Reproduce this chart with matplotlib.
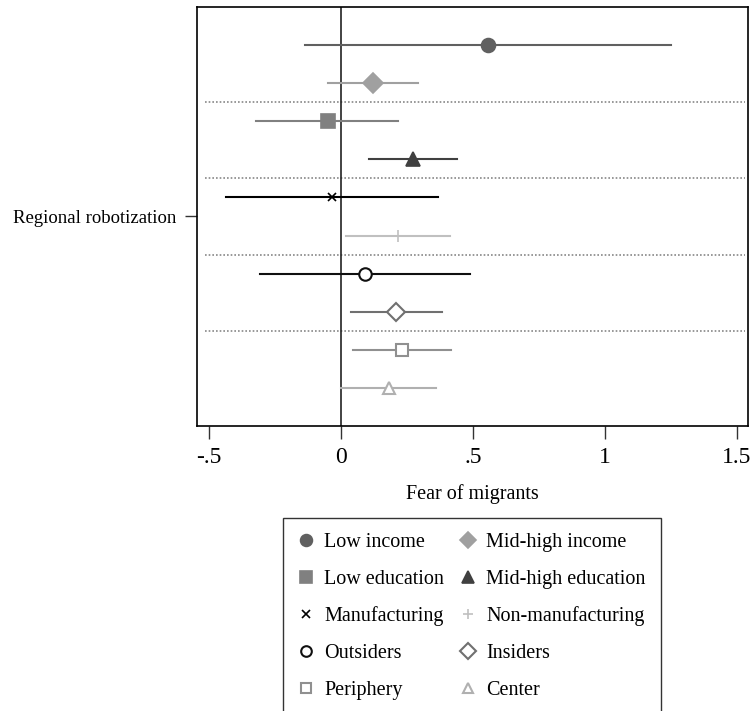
import matplotlib.pyplot as plt

plt.rcParams['font.family'] = ['Liberation Serif', 'DejaVu Serif']

# estimates and 95% CI
groups = ["Low income", "Mid-high income", "Low education", "Mid-high education",
          "Manufacturing", "Non-manufacturing", "Outsiders", "Insiders",
          "Periphery", "Center"]
coef = [0.558, 0.123, -0.049, 0.274, -0.034, 0.218, 0.091, 0.210, 0.232, 0.181]
lo = [-0.135, -0.048, -0.321, 0.108, -0.434, 0.020, -0.306, 0.038, 0.048, 0.000]
hi = [1.251, 0.293, 0.218, 0.442, 0.367, 0.415, 0.490, 0.383, 0.419, 0.359]

xticks = [-0.5, 0, 0.5, 1, 1.5]
xticklabels = ["-.5", "0", ".5", "1", "1.5"]

# marker, colour, filled
styles = [("o", "#606060", True), ("D", "#a0a0a0", True), ("s", "#808080", True),
          ("^", "#404040", True), ("x", "#000000", True), ("+", "#c0c0c0", True),
          ("o", "#101010", False), ("D", "#707070", False), ("s", "#909090", False),
          ("^", "#b0b0b0", False)]
msizes = [10, 10, 10, 10, 6, 9, 9, 9, 9, 9]

fig = plt.figure(figsize=(7.54, 7.11), dpi=100)
ax = fig.add_axes([0.261, 0.401, 0.731, 0.589])

handles = []
for i, g in enumerate(groups):
    y = i + 1
    m, c, filled = styles[i]
    ax.plot([lo[i], hi[i]], [y, y], color=c, lw=1.5, zorder=2)
    h, = ax.plot(coef[i], y, marker=m, ms=msizes[i], color=c,
                 mfc=c if filled else "white", mec=c,
                 mew=1.5 if not filled else 1.2, ls="none", zorder=3, label=g)
    handles.append(h)

for yy in [2.5, 4.5, 6.5, 8.5]:
    ax.axhline(yy, xmin=0.015, xmax=0.995, color="#888888", lw=1.2, ls=(0, (1, 1.2)), zorder=1)

ax.axvline(0, color="#222222", lw=1.2, zorder=1)

ax.set_xlim(-0.545, 1.542)
ax.set_ylim(11, 0)
ax.set_xticks(xticks)
ax.set_xticklabels(xticklabels, fontsize=17)
ax.set_yticks([5.5])
ax.set_yticklabels(["Regional robotization"], fontsize=13.5)
ax.tick_params(axis="both", length=9, width=1, color="#333333", pad=6)
for s in ax.spines.values():
    s.set_linewidth(1.2)
ax.set_xlabel("Fear of migrants", fontsize=14.5, labelpad=12)

# row-wise legend order like the reference; bottom edge runs off the figure
order = [0, 2, 4, 6, 8, 1, 3, 5, 7, 9]
leg = fig.legend(handles=[handles[k] for k in order], ncol=2, loc="upper left",
                 bbox_to_anchor=(0.375, 0.272), borderaxespad=0, fontsize=14.5,
                 frameon=True, fancybox=False, edgecolor="black", handlelength=0.8,
                 handletextpad=0.5, columnspacing=0.8, labelspacing=0.88,
                 borderpad=0.75, markerscale=0.85)
leg.get_frame().set_linewidth(1.0)

fig.savefig("out.png", dpi=100)
